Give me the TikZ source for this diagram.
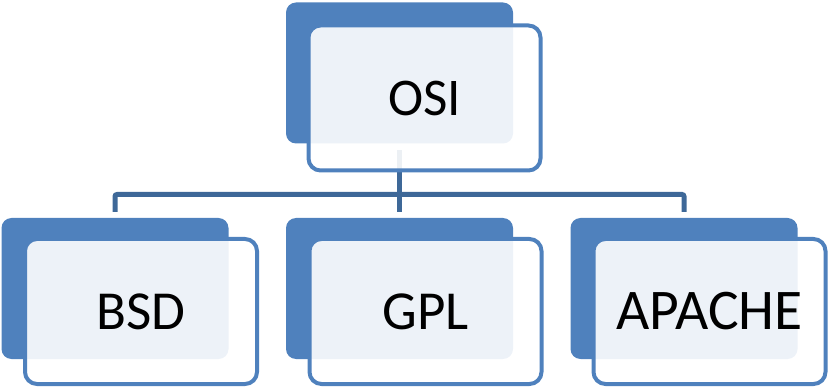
\documentclass[tikz,border=0pt]{standalone}
\usepackage{fontspec}
\setmainfont{Carlito}
\definecolor{boxblue}{HTML}{4F81BD}
\definecolor{linkblue}{HTML}{3E6898}
\begin{document}
\begin{tikzpicture}[x=1pt,y=-1pt,
  backbox/.style={fill=boxblue,draw=none,rounded corners=10pt,minimum width=227pt,minimum height=141pt,inner sep=0pt},
  frontbox/.style={draw=boxblue,line width=4pt,fill=white,fill opacity=0.9,text opacity=1,rounded corners=12pt,minimum width=232pt,minimum height=145pt,inner sep=0pt,font=\fontsize{53}{60}\selectfont,text=black},
  conn/.style={draw=linkblue,line width=5pt,rounded corners=2pt}]
\useasboundingbox (0,0) rectangle (828,390);
% back boxes
\node[backbox] (osiB) at (399.5,73) {};
\node[backbox] (bsdB) at (115,288.5) {};
\node[backbox] (gplB) at (399.5,288.5) {};
\node[backbox] (apaB) at (684,288.5) {};
% connectors
\coordinate (osiT) at (399.5,150);
\coordinate (j) at (399.5,194.5);
\coordinate (bsdT) at (115,212);
\coordinate (gplT) at (399.5,212);
\coordinate (apaT) at (684,212);
\draw[conn] (osiT) -- (j);
\draw[conn] (bsdT) -- (bsdT |- j) -- (apaT |- j) -- (apaT);
\draw[conn] (j) -- (gplT);
% front boxes
\node[frontbox] (osi) at (424.5,98) {OSI};
\node[frontbox,font=\fontsize{55}{60}\selectfont] (bsd) at (141,311.5) {BSD};
\node[frontbox,font=\fontsize{55}{60}\selectfont] (gpl) at (425.5,311.5) {GPL};
\node[frontbox,font=\fontsize{57.5}{60}\selectfont] (apa) at (709.5,311.5) {APACHE};
\end{tikzpicture}
\end{document}
